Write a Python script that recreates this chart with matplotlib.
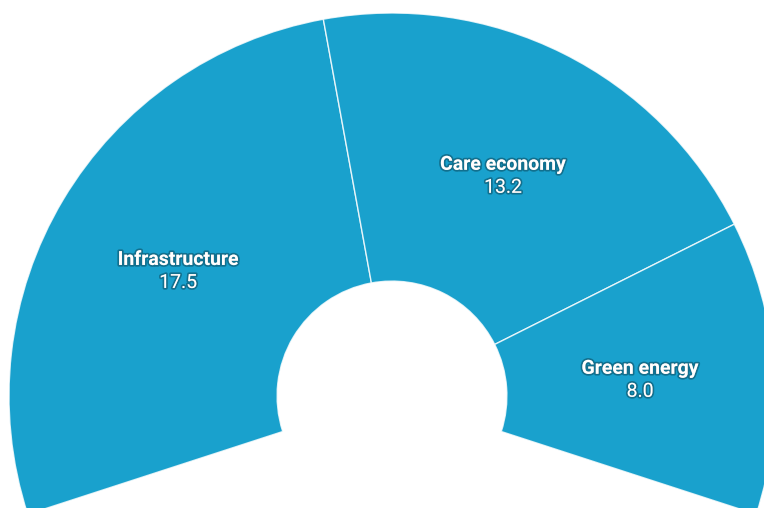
import matplotlib.pyplot as plt
import matplotlib.patheffects as pe
import numpy as np

# stimulus spending by area
categories = ['Infrastructure', 'Care economy', 'Green energy']
values = [17.5, 13.2, 8.0]

color = '#19a1cd'
start_angle = 198
span = 216           # degrees covered by the arc
inner = 0.30         # inner radius as fraction of outer

fig = plt.figure(figsize=(7.64, 5.08), dpi=100)
ax = fig.add_axes([0, 0, 1, 1])

total = sum(values)
gap = total * (360 - span) / span
wedges, _ = ax.pie(values + [gap], startangle=start_angle, counterclock=False,
                   colors=[color] * 3 + ['none'], radius=1.0,
                   wedgeprops=dict(width=1 - inner, edgecolor=(1, 1, 1, 0.8), linewidth=1.0))
wedges[-1].set_visible(False)

shadow = [pe.withStroke(linewidth=2.5, foreground=(0, 0, 0, 0.3))]
r_mid = (1 + inner) / 2
for w, name, v in zip(wedges[:3], categories, values):
    ang = np.deg2rad((w.theta1 + w.theta2) / 2)
    x, y = r_mid * np.cos(ang), r_mid * np.sin(ang) - 0.008
    ax.text(x, y + 0.03, name, ha='center', va='center', color='white',
            fontsize=14, fontweight='bold', family='Roboto', path_effects=shadow)
    ax.text(x, y - 0.03, f'{v:.1f}', ha='center', va='center', color='white',
            fontsize=14, family='Roboto', path_effects=shadow)

ax.set_aspect('auto')
ax.set_xlim(-392 / 383, 372 / 383)
ax.set_ylim(-112 / 383, 396 / 383)
ax.axis('off')

fig.savefig('out.png', dpi=100)
